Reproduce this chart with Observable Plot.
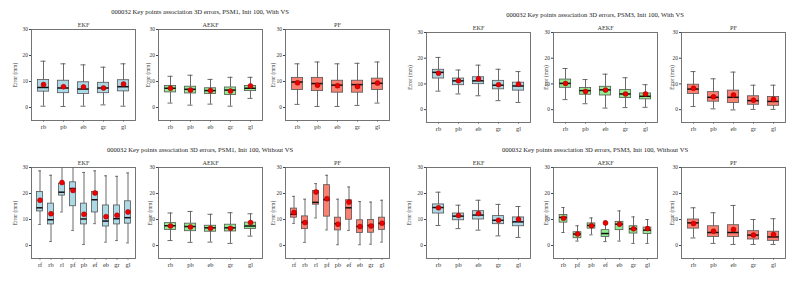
<!DOCTYPE html>
<html>
<head>
<meta charset="utf-8">
<script src="https://cdn.jsdelivr.net/npm/d3@7"></script>
<script src="https://cdn.jsdelivr.net/npm/@observablehq/plot@0.6"></script>
<style>
  html, body { margin: 0; padding: 0; background: #fff; }
  #root { position: relative; width: 793px; height: 285px; overflow: hidden; font-family: "Liberation Serif", "DejaVu Serif", serif; }
  .ftitle { position: absolute; font-size: 6.6px; color: #222; white-space: nowrap; transform: translate(-50%, -50%); }
  svg { position: absolute; overflow: visible; }
</style>
</head>
<body>
<div id="root"></div>
<script>
// ---------- categories ----------
const cats5 = ["rb", "pb", "eb", "gr", "gl"];
const cats9 = ["rf", "rb", "rl", "pf", "pb", "ef", "eb", "gr", "gl"];
const cats7 = ["rb", "pf", "pb", "ef", "eb", "gr", "gl"];
const yTicks = [0, 10, 20, 30];

// ---------- titles ----------
const figTitles = [
  "000032 Key points association 3D errors, PSM1, Init 100, With VS",
  "000032 Key points association 3D errors, PSM3, Init 100, With VS",
  "000032 Key points association 3D errors, PSM1, Init 100, Without VS",
  "000032 Key points association 3D errors, PSM3, Init 100, Without VS"
];
const subTitles = ["EKF", "AEKF", "PF"];
const yLabel = "Error (mm)";

// ---------- PSM1, With VS ----------
const tlEkfLo   = [0.5, 0.4, 0.5, 1.0, 0.5];
const tlEkfQ1   = [6.1, 5.5, 5.2, 5.5, 6.2];
const tlEkfMed  = [7.7, 7.5, 7.1, 7.5, 8.0];
const tlEkfQ3   = [10.6, 10.3, 9.7, 9.5, 10.5];
const tlEkfHi   = [17.8, 16.8, 16.4, 15.5, 16.8];
const tlEkfMean = [8.8, 8.0, 7.9, 7.5, 9.0];

const tlAekfLo   = [1.7, 0.9, 1.3, 0.5, 3.5];
const tlAekfQ1   = [5.8, 5.4, 5.2, 4.8, 6.3];
const tlAekfMed  = [7.4, 7.0, 6.5, 6.7, 7.4];
const tlAekfQ3   = [8.3, 8.0, 7.4, 7.7, 8.3];
const tlAekfHi   = [12.0, 12.4, 10.8, 11.6, 11.6];
const tlAekfMean = [7.4, 6.7, 6.5, 6.3, 8.3];

const tlPfLo   = [1.2, 0.4, 0.4, 0.8, 1.7];
const tlPfQ1   = [6.7, 6.3, 5.7, 5.7, 6.7];
const tlPfMed  = [9.8, 9.2, 8.6, 8.8, 9.3];
const tlPfQ3   = [11.4, 11.4, 10.3, 10.3, 11.1];
const tlPfHi   = [16.8, 17.5, 16.8, 17.0, 17.5];
const tlPfMean = [9.5, 8.6, 8.4, 8.1, 9.4];

// ---------- PSM3, With VS ----------
const trEkfLo   = [7.2, 6.1, 5.4, 3.5, 2.8];
const trEkfQ1   = [12.1, 9.5, 9.9, 7.9, 7.4];
const trEkfMed  = [14.5, 11.2, 11.2, 9.5, 9.2];
const trEkfQ3   = [15.5, 12.1, 12.6, 11.2, 10.5];
const trEkfHi   = [20.3, 15.4, 17.3, 15.7, 14.8];
const trEkfMean = [14.2, 11.2, 12.0, 9.7, 9.9];

const trAekfLo   = [3.9, 2.3, 0.6, 0.8, 0.9];
const trAekfQ1   = [8.5, 5.8, 5.5, 4.5, 4.0];
const trAekfMed  = [10.2, 7.4, 7.7, 6.1, 5.2];
const trAekfQ3   = [11.7, 8.4, 8.9, 7.6, 6.3];
const trAekfHi   = [16.0, 11.7, 13.8, 12.4, 9.7];
const trAekfMean = [10.2, 7.1, 7.6, 6.1, 6.1];

const trPfLo   = [1.2, 0.3, -0.1, 0.1, 0.1];
const trPfQ1   = [6.1, 3.1, 2.6, 1.9, 1.5];
const trPfMed  = [8.0, 4.8, 4.8, 3.5, 3.2];
const trPfQ3   = [9.7, 6.8, 7.4, 5.2, 4.9];
const trPfHi   = [14.8, 12.0, 14.6, 9.5, 9.5];
const trPfMean = [8.3, 5.0, 5.7, 3.7, 4.0];

// ---------- PSM1, Without VS ----------
const blEkfLo   = [8.1, 1.5, 12.9, 5.8, 0.4, 8.4, 1.3, 1.9, 1.0];
const blEkfQ1   = [13.1, 8.1, 19.2, 15.1, 8.1, 12.7, 7.3, 8.1, 8.4];
const blEkfMed  = [14.5, 9.9, 20.5, 21.9, 10.2, 17.6, 9.4, 10.3, 10.7];
const blEkfQ3   = [20.6, 16.1, 23.8, 24.3, 16.1, 20.6, 15.4, 15.4, 17.0];
const blEkfHi   = [28.7, 27.0, 30.5, 30.5, 28.1, 28.7, 26.8, 26.6, 27.9];
const blEkfMean = [17.4, 12.2, 24.2, 21.2, 12.0, 20.2, 11.1, 11.6, 12.9];

const blAekfLo   = [1.9, 1.2, 1.3, 0.8, 3.6];
const blAekfQ1   = [6.0, 5.5, 5.3, 5.4, 6.4];
const blAekfMed  = [7.6, 7.3, 6.8, 6.8, 7.5];
const blAekfQ3   = [8.6, 8.4, 7.6, 8.0, 8.8];
const blAekfHi   = [12.5, 13.1, 12.0, 12.6, 12.2];
const blAekfMean = [7.5, 7.1, 6.6, 6.6, 8.8];

const blPfLo   = [8.5, 1.2, 10.6, 6.0, 0.3, 5.8, 0.3, 0.5, 1.3];
const blPfQ1   = [10.7, 6.3, 15.7, 11.1, 5.8, 9.9, 4.8, 4.9, 6.0];
const blPfMed  = [12.0, 8.9, 16.6, 17.6, 8.4, 14.5, 7.3, 7.7, 8.5];
const blPfQ3   = [14.2, 11.2, 21.0, 23.2, 10.7, 17.4, 9.7, 9.8, 10.7];
const blPfHi   = [18.9, 17.8, 23.8, 27.0, 17.8, 22.5, 16.9, 16.7, 17.4];
const blPfMean = [12.7, 8.8, 20.6, 18.0, 8.2, 16.7, 7.3, 7.5, 8.6];

// ---------- PSM3, Without VS ----------
const brEkfLo   = [7.7, 6.5, 5.9, 3.7, 3.1];
const brEkfQ1   = [12.3, 9.7, 10.0, 8.2, 7.4];
const brEkfMed  = [14.6, 11.3, 11.7, 9.7, 9.1];
const brEkfQ3   = [15.8, 12.3, 13.2, 11.3, 10.8];
const brEkfHi   = [20.5, 15.5, 17.4, 15.8, 15.0];
const brEkfMean = [14.5, 11.5, 12.3, 9.7, 10.1];

const brAekfLo   = [5.0, 1.7, 4.1, 1.5, 1.7, 0.8, 0.8];
const brAekfQ1   = [8.8, 2.8, 6.5, 3.3, 5.9, 4.6, 4.4];
const brAekfMed  = [10.8, 4.4, 7.7, 4.6, 8.2, 6.4, 5.9];
const brAekfQ3   = [11.7, 5.1, 8.5, 5.9, 9.1, 7.4, 6.9];
const brAekfHi   = [14.6, 7.6, 10.6, 9.4, 13.3, 11.0, 10.0];
const brAekfMean = [10.5, 4.4, 7.6, 8.7, 8.2, 6.4, 6.5];

const brPfLo   = [2.9, 0.8, 0.4, 0.4, 0.4];
const brPfQ1   = [6.5, 3.3, 3.3, 2.3, 1.8];
const brPfMed  = [8.7, 5.0, 5.0, 4.0, 3.3];
const brPfQ3   = [10.0, 7.4, 7.8, 5.5, 5.3];
const brPfHi   = [14.5, 12.6, 15.4, 10.0, 10.3];
const brPfMean = [8.5, 5.5, 6.2, 4.0, 4.2];

const fills = ["#add8e6", "#90ee90", "#fa8072"];

// ---------- drawing ----------
const root = document.getElementById("root");

function subplot(opt) {
  const {left, top, w, h, cats, lo, q1, med, q3, hi, mean, fill, title, ylabDx} = opt;
  const mL = 30, mR = 3, mT = 12, mB = 14;
  const step = w / cats.length;
  const rows = cats.map((c, i) => ({c, lo: lo[i], q1: q1[i], med: med[i], q3: q3[i], hi: hi[i], mean: mean[i]}));
  const boxInset = step * 0.21;
  const capInset = step * 0.36;
  const svg = Plot.plot({
    width: w + mL + mR,
    height: h + mT + mB,
    marginLeft: mL, marginRight: mR, marginTop: mT, marginBottom: mB,
    style: {fontFamily: "'Liberation Serif', serif", fontSize: "5px", background: "transparent", color: "#333"},
    x: {type: "band", domain: cats, padding: 0, label: null},
    y: {domain: [-5, 30], label: null},
    marks: [
      Plot.axisY({ticks: yTicks, tickSize: 2, tickPadding: 1.5, fontSize: 5.4, label: null, stroke: "#444", fill: "#333"}),
      Plot.axisX({tickSize: 1.5, tickPadding: 2.5, fontSize: 6.4, label: null, stroke: "#444", fill: "#333"}),
      Plot.ruleX(rows, {x: "c", y1: "lo", y2: "hi", stroke: "#5a5a5a", strokeWidth: 0.9, clip: true}),
      Plot.tickY(rows, {x: "c", y: "lo", stroke: "#5a5a5a", strokeWidth: 0.9, insetLeft: capInset, insetRight: capInset}),
      Plot.tickY(rows.filter(d => d.hi <= 30), {x: "c", y: "hi", stroke: "#5a5a5a", strokeWidth: 0.9, insetLeft: capInset, insetRight: capInset}),
      Plot.barY(rows, {x: "c", y1: "q1", y2: "q3", fill, stroke: "#555", strokeWidth: 0.8, insetLeft: boxInset, insetRight: boxInset}),
      Plot.tickY(rows, {x: "c", y: "med", stroke: "#111", strokeWidth: 1.5, insetLeft: boxInset, insetRight: boxInset}),
      Plot.dot(rows, {x: "c", y: "mean", r: 2.5, fill: "#ee0000", stroke: "#990000", strokeWidth: 0.5}),
      Plot.frame({stroke: "#666", strokeWidth: 0.9}),
      Plot.text([title], {text: d => d, frameAnchor: "top", lineAnchor: "bottom", dy: -2.5, fontSize: 6.2, fill: "#333"}),
      Plot.text([yLabel], {text: d => d, frameAnchor: "left", textAnchor: "middle", rotate: -90, dx: ylabDx, fontSize: 5.4, fill: "#333"})
    ]
  });
  svg.style.left = (left - mL) + "px";
  svg.style.top = (top - mT) + "px";
  root.appendChild(svg);
}

function figure(fi, titleX, titleY, frameTop, h, lefts, sets, catsList, ylabDxs) {
  const t = document.createElement("div");
  t.className = "ftitle";
  t.textContent = figTitles[fi];
  t.style.left = titleX + "px";
  t.style.top = titleY + "px";
  root.appendChild(t);
  sets.forEach((s, k) => {
    subplot({
      left: lefts[k], top: frameTop, w: 104, h,
      cats: catsList[k],
      lo: s[0], q1: s[1], med: s[2], q3: s[3], hi: s[4], mean: s[5],
      fill: fills[k], title: subTitles[k], ylabDx: ylabDxs[k]
    });
  });
}

figure(0, 200, 11, 29, 91, [31, 158, 285],
  [[tlEkfLo, tlEkfQ1, tlEkfMed, tlEkfQ3, tlEkfHi, tlEkfMean],
   [tlAekfLo, tlAekfQ1, tlAekfMed, tlAekfQ3, tlAekfHi, tlAekfMean],
   [tlPfLo, tlPfQ1, tlPfMed, tlPfQ3, tlPfHi, tlPfMean]],
  [cats5, cats5, cats5], [-16, -10, -12]);

figure(1, 595, 14, 32, 90, [426, 553, 681],
  [[trEkfLo, trEkfQ1, trEkfMed, trEkfQ3, trEkfHi, trEkfMean],
   [trAekfLo, trAekfQ1, trAekfMed, trAekfQ3, trAekfHi, trAekfMean],
   [trPfLo, trPfQ1, trPfMed, trPfQ3, trPfHi, trPfMean]],
  [cats5, cats5, cats5], [-16, -7, -9]);

figure(2, 200, 149, 167, 91, [31, 158, 285],
  [[blEkfLo, blEkfQ1, blEkfMed, blEkfQ3, blEkfHi, blEkfMean],
   [blAekfLo, blAekfQ1, blAekfMed, blAekfQ3, blAekfHi, blAekfMean],
   [blPfLo, blPfQ1, blPfMed, blPfQ3, blPfHi, blPfMean]],
  [cats9, cats5, cats9], [-16, -8, -12]);

figure(3, 595, 149, 167, 91, [426, 553, 681],
  [[brEkfLo, brEkfQ1, brEkfMed, brEkfQ3, brEkfHi, brEkfMean],
   [brAekfLo, brAekfQ1, brAekfMed, brAekfQ3, brAekfHi, brAekfMean],
   [brPfLo, brPfQ1, brPfMed, brPfQ3, brPfHi, brPfMean]],
  [cats5, cats7, cats5], [-17, -7, -9]);
</script>
</body>
</html>
